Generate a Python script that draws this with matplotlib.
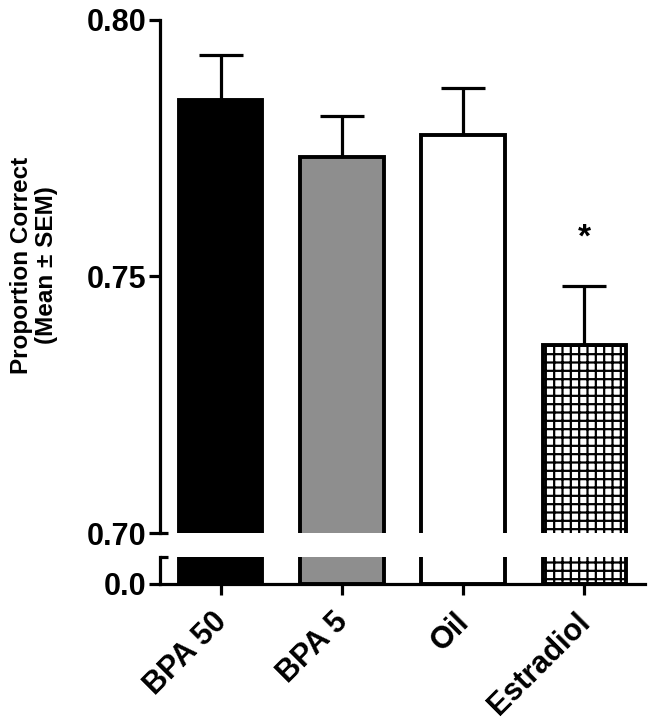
import matplotlib.pyplot as plt
import matplotlib.transforms as mtransforms

plt.rcParams['font.family'] = ['Liberation Sans', 'DejaVu Sans']
plt.rcParams['font.weight'] = 'bold'
plt.rcParams['hatch.linewidth'] = 1.6

# Data
groups = ["BPA 50", "BPA 5", "Oil", "Estradiol"]
means = [0.7844, 0.7733, 0.7776, 0.7366]
sems = [0.0088, 0.0080, 0.0091, 0.0115]
colors = ["black", "#8e8e8e", "white", "white"]
hatches = [None, None, None, "++"]
star_group = 3
star_y = 0.7575

x = list(range(len(groups)))
lw = 2.3

fig = plt.figure(figsize=(6.54, 7.24), dpi=100)
ax_top = fig.add_axes([0.2446, 0.2638, 0.7416, 0.7086])
ax_bot = fig.add_axes([0.2446, 0.1934, 0.7416, 0.0373])

for ax in (ax_top, ax_bot):
    bars = ax.bar(x, means, width=0.69, color=colors, edgecolor="black",
                  linewidth=2.8, zorder=2)
    for b, h in zip(bars, hatches):
        if h:
            b.set_hatch(h)
    ax.errorbar(x, means, yerr=[[0] * len(sems), sems], fmt="none",
                ecolor="black", elinewidth=lw, capsize=15.5, capthick=lw, zorder=1)
    ax.set_xlim(-0.5, 3.5)
    ax.spines["top"].set_visible(False)
    ax.spines["right"].set_visible(False)
    ax.spines["left"].set_linewidth(lw)
    ax.spines["bottom"].set_linewidth(lw)
    ax.tick_params(axis="y", length=8, width=lw, labelsize=22, pad=2)
    ax.tick_params(axis="x", length=8, width=lw, labelsize=22)

ax_top.set_ylim(0.70, 0.80)
ax_top.set_yticks([0.70, 0.75, 0.80])
ax_top.set_yticklabels(["0.70", "0.75", "0.80"])
ax_top.spines["bottom"].set_visible(False)
ax_top.tick_params(axis="x", bottom=False, labelbottom=False)
ax_top.plot([0, 0.017], [0, 0], transform=ax_top.transAxes, color="black",
            lw=lw, clip_on=False, solid_capstyle="butt")

ax_bot.set_ylim(0, 0.05)
ax_bot.set_yticks([0.0])
ax_bot.set_yticklabels(["0.0"])
ax_bot.plot([0, 0.017], [1, 1], transform=ax_bot.transAxes, color="black",
            lw=lw, clip_on=False, solid_capstyle="butt")
ax_bot.set_xticks(x)
ax_bot.set_xticklabels(groups, rotation=45, ha="right", rotation_mode="anchor")
shift = mtransforms.ScaledTranslation(-0.09, -0.07, fig.dpi_scale_trans)
for lab in ax_bot.get_xticklabels():
    lab.set_transform(lab.get_transform() + shift)

ax_top.text(x[star_group], star_y, "*", ha="center", va="center", fontsize=24,
            fontweight="bold")

fig.text(0.052, 0.634, "Proportion Correct\n(Mean \u00b1 SEM)", rotation=90,
         ha="center", va="center", fontsize=17.5, fontweight="bold",
         linespacing=1.1)

fig.savefig("out.png", dpi=100)
